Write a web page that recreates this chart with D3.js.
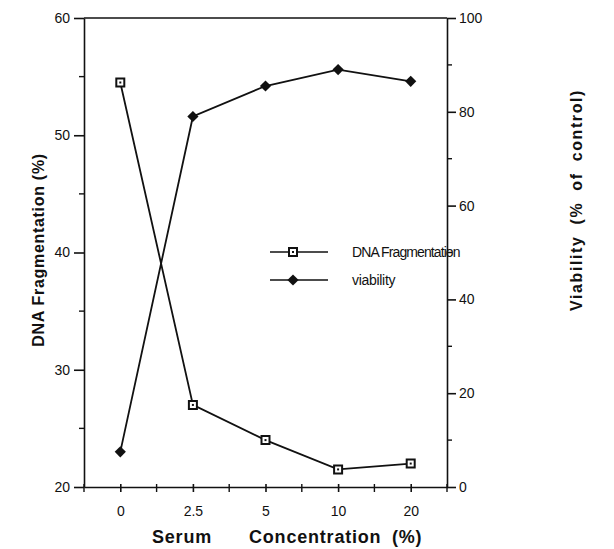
<!DOCTYPE html>
<html>
<head>
<meta charset="utf-8">
<script src="https://cdn.jsdelivr.net/npm/d3@7"></script>
<style>
  body { margin: 0; background: #fff; }
  text { font-family: "Liberation Sans", Arial, sans-serif; fill: #111; }
  .axis path, .axis line { stroke: #111; stroke-width: 1.6; }
  .axis text { font-size: 14px; }
  .legend text { font-size: 14px; }
</style>
</head>
<body>
<div class="plot"></div>
<script>
// chart values
var concentrations = ["0", "2.5", "5", "10", "20"];
var dnaFragmentation = [54.5, 27.0, 24.0, 21.5, 22.0];
var viability = [7.5, 79, 85.5, 89, 86.5];
var leftTicks = [20, 30, 40, 50, 60];
var rightTicks = [0, 20, 40, 60, 80, 100];

var svgWidth = 614;
var svgHeight = 549;

var margin = { top: 18, right: 167, bottom: 62, left: 84 };
var width = svgWidth - margin.left - margin.right;
var height = svgHeight - margin.top - margin.bottom;

var svg = d3.select(".plot")
    .append("svg")
    .attr("width", svgWidth)
    .attr("height", svgHeight);

var chartGroup = svg.append("g")
    .attr("transform", `translate(${margin.left}, ${margin.top})`);

// scales
var xScale = d3.scalePoint()
    .domain(concentrations)
    .range([0, width])
    .padding(0.5);

var yLeft = d3.scaleLinear().domain([20, 60]).range([height, 0]);
var yRight = d3.scaleLinear().domain([0, 100]).range([height, 0]);

// minor ticks first
var step = xScale.step();
var xMinor = [];
for (var i = 0; i <= concentrations.length; i++) xMinor.push(i * step);

chartGroup.append("g")
    .selectAll("line")
    .data(xMinor)
    .enter()
    .append("line")
    .attr("x1", d => d).attr("x2", d => d)
    .attr("y1", height - 3).attr("y2", height + 5)
    .attr("stroke", "#111").attr("stroke-width", 1.4);

chartGroup.append("g")
    .selectAll("line")
    .data(d3.range(25, 60, 10))
    .enter()
    .append("line")
    .attr("x1", -5).attr("x2", 0)
    .attr("y1", d => yLeft(d)).attr("y2", d => yLeft(d))
    .attr("stroke", "#111").attr("stroke-width", 1.4);

chartGroup.append("g")
    .selectAll("line")
    .data(d3.range(10, 100, 20))
    .enter()
    .append("line")
    .attr("x1", width).attr("x2", width + 5)
    .attr("y1", d => yRight(d)).attr("y2", d => yRight(d))
    .attr("stroke", "#111").attr("stroke-width", 1.4);

// axes
chartGroup.append("g")
    .attr("class", "axis")
    .attr("transform", `translate(0, ${height})`)
    .call(d3.axisBottom(xScale).tickSizeInner(5).tickSizeOuter(0).tickPadding(14))
    .call(g => g.selectAll(".tick line").attr("y1", -3));

chartGroup.append("g")
    .attr("class", "axis")
    .call(d3.axisLeft(yLeft).tickValues(leftTicks).tickSizeInner(10).tickSizeOuter(0).tickPadding(4));

chartGroup.append("g")
    .attr("class", "axis")
    .attr("transform", `translate(${width}, 0)`)
    .call(d3.axisRight(yRight).tickValues(rightTicks).tickSizeInner(9).tickSizeOuter(0).tickPadding(3));

// top border
chartGroup.append("line")
    .attr("x1", 0).attr("x2", width)
    .attr("y1", 0).attr("y2", 0)
    .attr("stroke", "#111").attr("stroke-width", 1.6);

// lines
var dnaLine = d3.line()
    .x((d, i) => xScale(concentrations[i]))
    .y(d => yLeft(d));

var viaLine = d3.line()
    .x((d, i) => xScale(concentrations[i]))
    .y(d => yRight(d));

chartGroup.append("path")
    .datum(dnaFragmentation)
    .attr("d", dnaLine)
    .attr("fill", "none").attr("stroke", "#111").attr("stroke-width", 1.8);

chartGroup.append("path")
    .datum(viability)
    .attr("d", viaLine)
    .attr("fill", "none").attr("stroke", "#111").attr("stroke-width", 1.8);

// markers
var squareSym = d3.symbol().type(d3.symbolSquare).size(64);
var diamondSym = d3.symbol().type(d3.symbolDiamond2).size(80);

chartGroup.selectAll(".dna")
    .data(dnaFragmentation)
    .enter()
    .append("path")
    .attr("class", "dna")
    .attr("d", squareSym)
    .attr("transform", (d, i) => `translate(${xScale(concentrations[i])}, ${yLeft(d)})`)
    .attr("fill", "#fff").attr("stroke", "#111").attr("stroke-width", 2);

chartGroup.selectAll(".dnadot")
    .data(dnaFragmentation)
    .enter()
    .append("rect")
    .attr("class", "dnadot")
    .attr("x", (d, i) => xScale(concentrations[i]) - 1)
    .attr("y", d => yLeft(d) - 1)
    .attr("width", 2).attr("height", 2)
    .attr("fill", "#111");

chartGroup.selectAll(".via")
    .data(viability)
    .enter()
    .append("path")
    .attr("class", "via")
    .attr("d", diamondSym)
    .attr("transform", (d, i) => `translate(${xScale(concentrations[i])}, ${yRight(d)})`)
    .attr("fill", "#111");

// legend
var legend = chartGroup.append("g")
    .attr("class", "legend")
    .attr("transform", "translate(186, 234)");

legend.append("line")
    .attr("x1", 0).attr("x2", 58).attr("y1", 0).attr("y2", 0)
    .attr("stroke", "#111").attr("stroke-width", 1.6);
legend.append("path")
    .attr("d", squareSym)
    .attr("transform", "translate(23, 0)")
    .attr("fill", "#fff").attr("stroke", "#111").attr("stroke-width", 2);
legend.append("rect")
    .attr("x", 22).attr("y", -1).attr("width", 2).attr("height", 2)
    .attr("fill", "#111");
legend.append("text")
    .attr("x", 82).attr("y", 5)
    .style("letter-spacing", "-0.9px")
    .text("DNA Fragmentation");

legend.append("line")
    .attr("x1", 0).attr("x2", 58).attr("y1", 28).attr("y2", 28)
    .attr("stroke", "#111").attr("stroke-width", 1.6);
legend.append("path")
    .attr("d", diamondSym)
    .attr("transform", "translate(23, 28)")
    .attr("fill", "#111");
legend.append("text")
    .attr("x", 82).attr("y", 33)
    .style("letter-spacing", "-0.3px")
    .text("viability");

// axis titles
svg.append("text")
    .attr("transform", `translate(44, 250) rotate(-90)`)
    .attr("text-anchor", "middle")
    .style("font-size", "16px").style("font-weight", "bold")
    .style("letter-spacing", "0.7px")
    .text("DNA Fragmentation (%)");

svg.append("text")
    .attr("transform", `translate(582, 200) rotate(-90)`)
    .attr("text-anchor", "middle")
    .style("font-size", "16px").style("font-weight", "bold")
    .style("letter-spacing", "1.6px")
    .style("word-spacing", "5px")
    .text("Viability (% of control)");

var xTitle = svg.append("text")
    .attr("y", 543)
    .style("font-size", "18px").style("font-weight", "bold")
    .style("letter-spacing", "0.8px");
xTitle.append("tspan").attr("x", 152).text("Serum");
xTitle.append("tspan").attr("x", 249).text("Concentration");
xTitle.append("tspan").attr("x", 392).text("(%)");
</script>
</body>
</html>
